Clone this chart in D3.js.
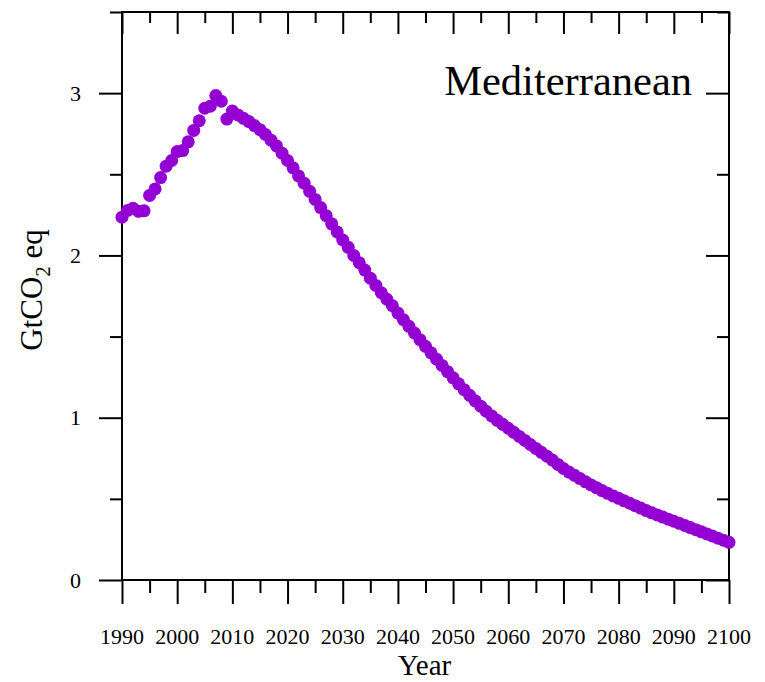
<!DOCTYPE html>
<html>
<head>
<meta charset="utf-8">
<script src="https://cdn.jsdelivr.net/npm/d3@7"></script>
<style>
    body { margin: 0; background: #fff; }
    text { font-family: "Liberation Serif", "Times New Roman", serif; fill: #000; }
</style>
</head>
<body>
<div id="chart"></div>
<script>
// yearly emissions, GtCO2 eq (historic 1990-2010, then projection)
let years = d3.range(1990, 2101);
let emissions = [
    2.236, 2.277, 2.290, 2.272, 2.275, 2.370, 2.410, 2.480, 2.550, 2.585,
    2.640, 2.646, 2.700, 2.770, 2.830, 2.907, 2.920, 2.985, 2.950, 2.840,
    2.890, 2.866, 2.845, 2.825, 2.800, 2.775, 2.745, 2.710, 2.675, 2.630,
    2.585, 2.540, 2.490, 2.445, 2.395, 2.345, 2.295, 2.245, 2.195, 2.145,
    2.095, 2.050, 2.000, 1.955, 1.910, 1.860, 1.815, 1.770, 1.730, 1.690,
    1.645, 1.604, 1.563, 1.522, 1.481, 1.440, 1.400, 1.361, 1.322, 1.284,
    1.246, 1.209, 1.173, 1.138, 1.104, 1.071, 1.040, 1.011, 0.984, 0.959,
    0.935, 0.910, 0.885, 0.860, 0.835, 0.811, 0.787, 0.763, 0.739, 0.712,
    0.687, 0.665, 0.645, 0.625, 0.605, 0.586, 0.568, 0.551, 0.534, 0.518,
    0.503, 0.488, 0.473, 0.458, 0.443, 0.428, 0.414, 0.401, 0.388, 0.375,
    0.362, 0.349, 0.336, 0.323, 0.310, 0.297, 0.284, 0.271, 0.258, 0.245,
    0.232
];

let xMajor = d3.range(1990, 2101, 10);
let xMinor = d3.range(1995, 2100, 10);
let yMajor = [0, 1, 2, 3];
let yMinor = [0.5, 1.5, 2.5, 3.5];

let region = "Mediterranean";

let margin = {top: 12, right: 36, bottom: 102, left: 122};
let fullW = 765, fullH = 682;
let width = fullW - margin.left - margin.right;
let height = fullH - margin.top - margin.bottom;

let svg = d3.select("#chart").append("svg")
    .attr("width", fullW)
    .attr("height", fullH)
    .append("g")
    .attr("transform", "translate(" + margin.left + "," + margin.top + ")");

let x = d3.scaleLinear().domain([1990, 2100]).range([0, width]);
let y = d3.scaleLinear().domain([0, 3.5]).range([height, 0]);

function styleAxis(g) {
    g.selectAll("path").remove();
    g.selectAll("line").attr("stroke", "#000").attr("stroke-width", 2);
}

// bottom axis
svg.append("g")
    .attr("transform", "translate(0," + height + ")")
    .call(d3.axisBottom(x).tickValues(xMajor).tickSize(24).tickFormat(""))
    .call(styleAxis);
svg.append("g")
    .attr("transform", "translate(0," + height + ")")
    .call(d3.axisBottom(x).tickValues(xMinor).tickSize(13).tickFormat(""))
    .call(styleAxis);

// top axis (inward)
svg.append("g")
    .call(d3.axisTop(x).tickValues(xMajor).tickSize(-22).tickFormat(""))
    .call(styleAxis);
svg.append("g")
    .call(d3.axisTop(x).tickValues(xMinor).tickSize(-11).tickFormat(""))
    .call(styleAxis);

// left axis
svg.append("g")
    .call(d3.axisLeft(y).tickValues(yMajor).tickSize(23).tickFormat(""))
    .call(styleAxis);
svg.append("g")
    .call(d3.axisLeft(y).tickValues(yMinor).tickSize(12).tickFormat(""))
    .call(styleAxis);

// right axis (inward)
svg.append("g")
    .attr("transform", "translate(" + width + ",0)")
    .call(d3.axisRight(y).tickValues(yMajor).tickSize(-23).tickFormat(""))
    .call(styleAxis);
svg.append("g")
    .attr("transform", "translate(" + width + ",0)")
    .call(d3.axisRight(y).tickValues(yMinor).tickSize(-12).tickFormat(""))
    .call(styleAxis);

// frame
svg.append("rect")
    .attr("width", width)
    .attr("height", height)
    .attr("fill", "none")
    .attr("stroke", "#000")
    .attr("stroke-width", 2);

// tick labels
svg.selectAll(".xlab")
    .data(xMajor)
    .enter().append("text")
    .attr("class", "xlab")
    .attr("x", d => x(d))
    .attr("y", height + 64)
    .attr("text-anchor", "middle")
    .style("font-size", "22px")
    .text(d => d);

svg.selectAll(".ylab")
    .data(yMajor)
    .enter().append("text")
    .attr("class", "ylab")
    .attr("x", -41)
    .attr("y", d => y(d))
    .attr("dy", "0.35em")
    .attr("text-anchor", "end")
    .style("font-size", "22px")
    .text(d => d);

// axis titles
svg.append("text")
    .attr("x", width / 2 - 1)
    .attr("y", height + 95)
    .attr("text-anchor", "middle")
    .style("font-size", "29px")
    .text("Year");

let yTitle = svg.append("text")
    .attr("transform", "translate(-80," + (height / 2 - 6) + ") rotate(-90)")
    .attr("text-anchor", "middle")
    .style("font-size", "31px");
yTitle.append("tspan").text("GtCO");
yTitle.append("tspan").attr("dy", 8).style("font-size", "21px").text("2");
yTitle.append("tspan").attr("dy", -8).text(" eq");

// region label
svg.append("text")
    .attr("x", width - 37)
    .attr("y", 83)
    .attr("text-anchor", "end")
    .style("font-size", "42.5px")
    .text(region);

// points
svg.selectAll(".dot")
    .data(years.map((d, i) => ({year: d, value: emissions[i]})))
    .enter().append("circle")
    .attr("class", "dot")
    .attr("cx", d => x(d.year))
    .attr("cy", d => y(d.value))
    .attr("r", 6.5)
    .attr("fill", "#9400d3");
</script>
</body>
</html>
